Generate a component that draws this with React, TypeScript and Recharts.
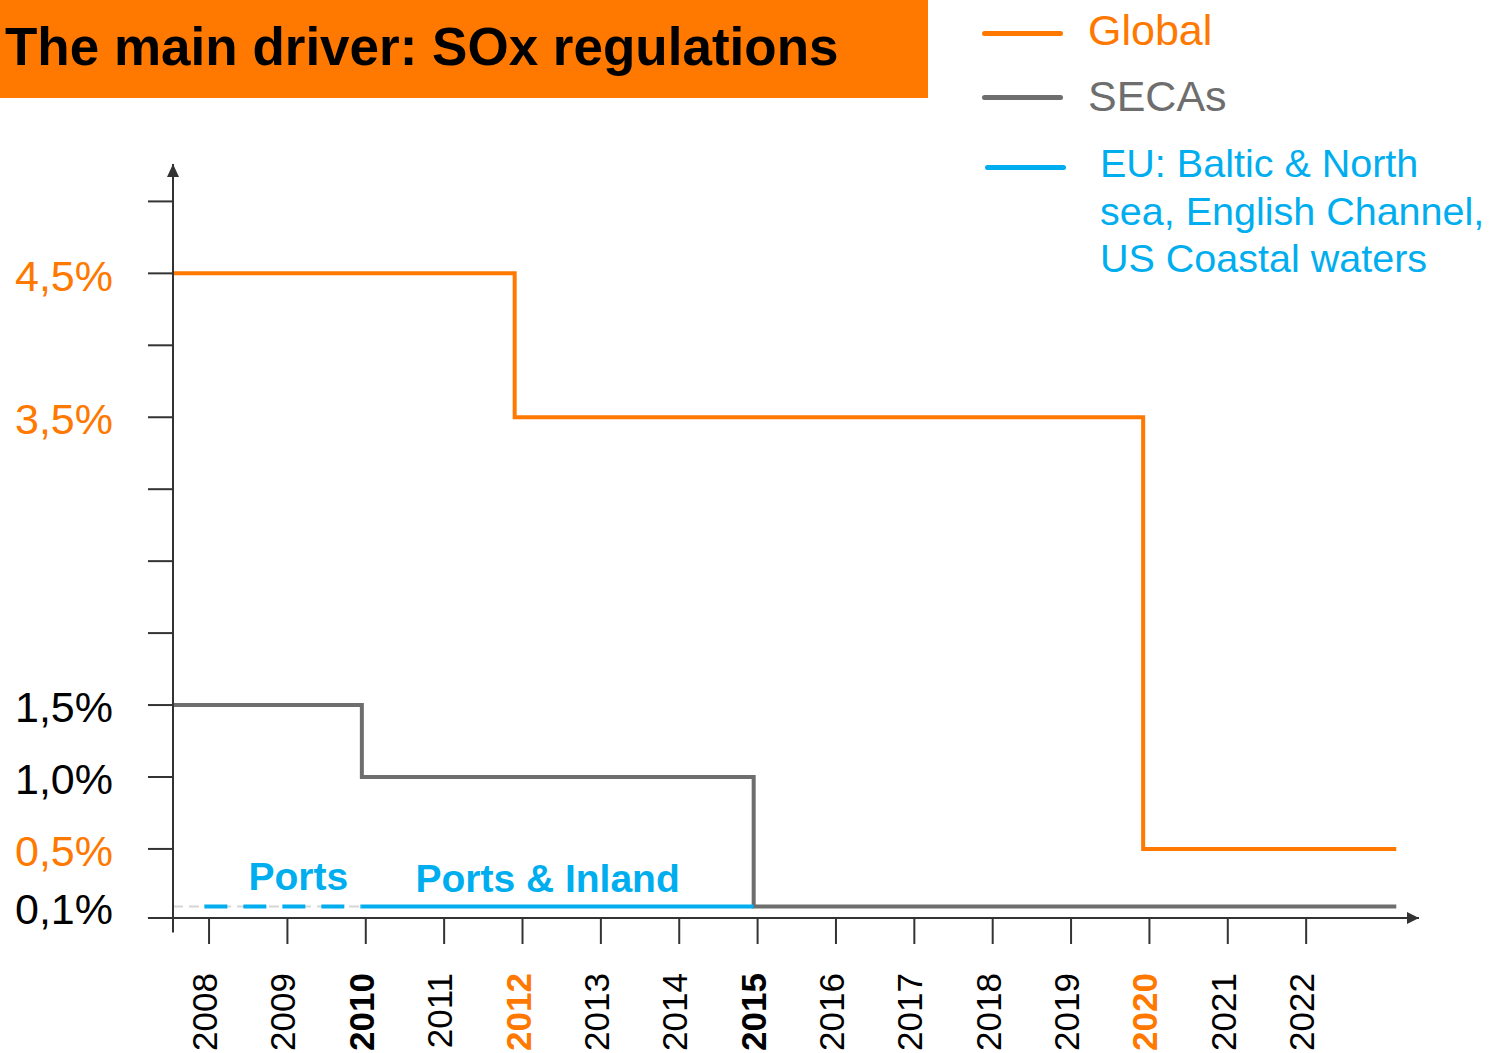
import React from 'react';
import { LineChart, Line, XAxis, YAxis, ReferenceLine, ReferenceDot, Legend } from 'recharts';

const FONT = '"Liberation Sans", Arial, Helvetica, sans-serif';
const ORANGE = '#FF7800';
const GREY = '#6E6E6E';
const BLUE = '#00AEEF';
const AXIS = '#333333';

// x axis tick labels
const YEARS = [2008, 2009, 2010, 2011, 2012, 2013, 2014, 2015, 2016, 2017, 2018, 2019, 2020, 2021, 2022];
const BOLD_YEARS = [2010, 2015];
const ORANGE_YEARS = [2012, 2020];

// y axis ticks (sulphur limit, %)
const Y_TICK_MARKS = [0.5, 1, 1.5, 2, 2.5, 3, 3.5, 4, 4.5, 5];
const Y_TICKS = [0.1, ...Y_TICK_MARKS];
const Y_LABEL_VALUES = [0.1, 0.5, 1, 1.5, 3.5, 4.5];
const Y_LABEL_TEXT = ['0,1%', '0,5%', '1,0%', '1,5%', '3,5%', '4,5%'];
const ORANGE_LEVELS = [0.5, 3.5, 4.5];

const X_DOMAIN = [2007.54, 2023.44];
const Y_DOMAIN = [0.02, 5.26];

// series names, in legend order
const SERIES_NAMES = ['Global', 'SECAs', 'EU: Baltic & North\nsea, English Channel,\nUS Coastal waters'];

// series: year where each limit starts, and the limit
const GLOBAL_YEARS = [2007.54, 2011.9, 2019.92, 2023.15];
const GLOBAL_LIMITS = [4.5, 3.5, 0.5, 0.5];
const SECA_YEARS = [2007.54, 2009.95, 2014.95, 2023.15];
const SECA_LIMITS = [1.5, 1.0, 0.1, 0.1];
const EU_PORTS_YEARS = [2007.94, 2009.95];
const EU_PORTS_LIMITS = [0.1, 0.1];
const EU_INLAND_YEARS = [2009.95, 2014.95];
const EU_INLAND_LIMITS = [0.1, 0.1];
const GUIDE_YEARS = [2007.54, 2009.95];
const GUIDE_LIMITS = [0.1, 0.1];

const toPoints = (years: number[], limits: number[]) =>
  years.map((year, i) => ({ year, limit: limits[i] }));

const globalData = toPoints(GLOBAL_YEARS, GLOBAL_LIMITS);
const secaData = toPoints(SECA_YEARS, SECA_LIMITS);
const euPortsData = toPoints(EU_PORTS_YEARS, EU_PORTS_LIMITS);
const euInlandData = toPoints(EU_INLAND_YEARS, EU_INLAND_LIMITS);
const guideData = toPoints(GUIDE_YEARS, GUIDE_LIMITS);

const TICK_LEN = 25;
const TICK_GAP = 35;

const LimitTick = ({ x, y, payload }: any) => {
  const v = payload.value;
  const idx = Y_LABEL_VALUES.indexOf(v);
  return (
    <g>
      {Y_TICK_MARKS.includes(v) && (
        <line x1={x + TICK_GAP} x2={x + TICK_GAP + TICK_LEN} y1={y} y2={y} stroke={AXIS} strokeWidth={2} />
      )}
      {idx >= 0 && (
        <text x={x} y={y} dy="0.4em" textAnchor="end" fontSize={43} fontFamily={FONT}
          fill={ORANGE_LEVELS.includes(v) ? ORANGE : '#000'}>
          {Y_LABEL_TEXT[idx]}
        </text>
      )}
    </g>
  );
};

const YearTick = ({ x, y, payload }: any) => {
  const year = payload.value;
  const orange = ORANGE_YEARS.includes(year);
  const bold = orange || BOLD_YEARS.includes(year);
  return (
    <text x={x} y={y} dy={8} transform={`rotate(-90, ${x}, ${y})`} textAnchor="end"
      fontSize={35} fontFamily={FONT} fontWeight={bold ? 700 : 400} fill={orange ? ORANGE : '#000'}>
      {year}
    </text>
  );
};

const LEGEND_ROWS = [
  { top: 5.5, lineY: 33, lineLeft: 0, textLeft: 106, fontSize: 43, lineHeight: 48 },
  { top: 71.5, lineY: 97, lineLeft: 0, textLeft: 106, fontSize: 43, lineHeight: 48 },
  { top: 140, lineY: 167, lineLeft: 3, textLeft: 118, fontSize: 39.5, lineHeight: 47.5 },
];

const renderLegend = ({ payload }: any) => {
  const entries = (payload || []).filter((e: any) => SERIES_NAMES.includes(e.value));
  return (
    <div style={{ position: 'relative', width: 516, height: 300, fontFamily: FONT }}>
      {entries.map((entry: any) => {
        const row = LEGEND_ROWS[SERIES_NAMES.indexOf(entry.value)];
        return (
          <React.Fragment key={entry.value}>
            <div style={{
              position: 'absolute', left: row.lineLeft, top: row.lineY - 2.5, width: 81, height: 5,
              borderRadius: 2.5, background: entry.color,
            }} />
            <div style={{
              position: 'absolute', left: row.textLeft, top: row.top, fontSize: row.fontSize,
              lineHeight: `${row.lineHeight}px`, color: entry.color, whiteSpace: 'pre',
            }}>
              {entry.value}
            </div>
          </React.Fragment>
        );
      })}
    </div>
  );
};

const XArrow = ({ cx, cy }: any) => (
  <polygon points={`${cx},${cy} ${cx - 12},${cy - 6} ${cx - 12},${cy + 6}`} fill={AXIS} />
);
const YArrow = ({ cx, cy }: any) => (
  <polygon points={`${cx},${cy} ${cx - 6},${cy + 13} ${cx + 6},${cy + 13}`} fill={AXIS} />
);

const areaLabel = (value: string) => ({
  value, position: 'center' as const, fill: BLUE, fontSize: 39, fontWeight: 700, fontFamily: FONT,
});

export default function App() {
  return (
    <div style={{ position: 'absolute', left: 0, top: 0, width: 1498, height: 1053, background: '#fff', fontFamily: FONT }}>
      <LineChart width={1498} height={1053} margin={{ top: 164, right: 79, left: 0, bottom: 0 }}>
        <XAxis type="number" dataKey="year" domain={X_DOMAIN} allowDataOverflow ticks={YEARS} interval={0}
          height={135} tickSize={26} tickMargin={29} tick={<YearTick />}
          axisLine={{ stroke: AXIS, strokeWidth: 2 }} tickLine={{ stroke: AXIS, strokeWidth: 2 }} />
        <YAxis type="number" domain={Y_DOMAIN} allowDataOverflow ticks={Y_TICKS} interval={0}
          width={173} tickSize={TICK_LEN} tickMargin={TICK_GAP} tick={<LimitTick />} tickLine={false}
          axisLine={{ stroke: AXIS, strokeWidth: 2 }} />

        <ReferenceLine segment={[{ x: X_DOMAIN[0] - 0.32, y: Y_DOMAIN[0] }, { x: X_DOMAIN[0], y: Y_DOMAIN[0] }]}
          stroke={AXIS} strokeWidth={2} ifOverflow="visible" />
        <ReferenceLine segment={[{ x: X_DOMAIN[0], y: Y_DOMAIN[0] }, { x: X_DOMAIN[0], y: Y_DOMAIN[0] - 0.1 }]}
          stroke={AXIS} strokeWidth={2} ifOverflow="visible" />
        <ReferenceDot x={X_DOMAIN[1]} y={Y_DOMAIN[0]} r={1} shape={<XArrow />} ifOverflow="visible" />
        <ReferenceDot x={X_DOMAIN[0]} y={Y_DOMAIN[1]} r={1} shape={<YArrow />} ifOverflow="visible" />

        <Line data={guideData} dataKey="limit" type="linear" stroke="#d6d6d6" strokeWidth={2}
          strokeDasharray="10 6" dot={false} activeDot={false} legendType="none" isAnimationActive={false} />
        <Line data={globalData} dataKey="limit" name={SERIES_NAMES[0]} type="stepAfter" stroke={ORANGE} strokeWidth={4}
          dot={false} activeDot={false} isAnimationActive={false} />
        <Line data={secaData} dataKey="limit" name={SERIES_NAMES[1]} type="stepAfter" stroke={GREY} strokeWidth={4}
          dot={false} activeDot={false} isAnimationActive={false} />
        <Line data={euInlandData} dataKey="limit" name={SERIES_NAMES[2]}
          type="linear" stroke={BLUE} strokeWidth={4} dot={false} activeDot={false} isAnimationActive={false} />
        <Line data={euPortsData} dataKey="limit" type="linear" stroke={BLUE} strokeWidth={4} strokeDasharray="23 16"
          dot={false} activeDot={false} legendType="none" isAnimationActive={false} />

        <ReferenceDot x={2009.14} y={0.312} r={0} fill="none" stroke="none" label={areaLabel('Ports')} ifOverflow="visible" />
        <ReferenceDot x={2012.32} y={0.295} r={0} fill="none" stroke="none" label={areaLabel('Ports & Inland')} ifOverflow="visible" />

        <Legend layout="horizontal" verticalAlign="middle" content={renderLegend}
          wrapperStyle={{ left: 982, top: 0, width: 516, height: 300 }} />
      </LineChart>
      <div style={{
        position: 'absolute', left: 0, top: 0, width: 928, height: 98, background: ORANGE,
        paddingLeft: 5, paddingTop: 20, boxSizing: 'border-box', lineHeight: '53px',
        fontSize: 53, fontWeight: 700, color: '#000', fontFamily: FONT, whiteSpace: 'nowrap',
      }}>
        The main driver: SOx regulations
      </div>
    </div>
  );
}
